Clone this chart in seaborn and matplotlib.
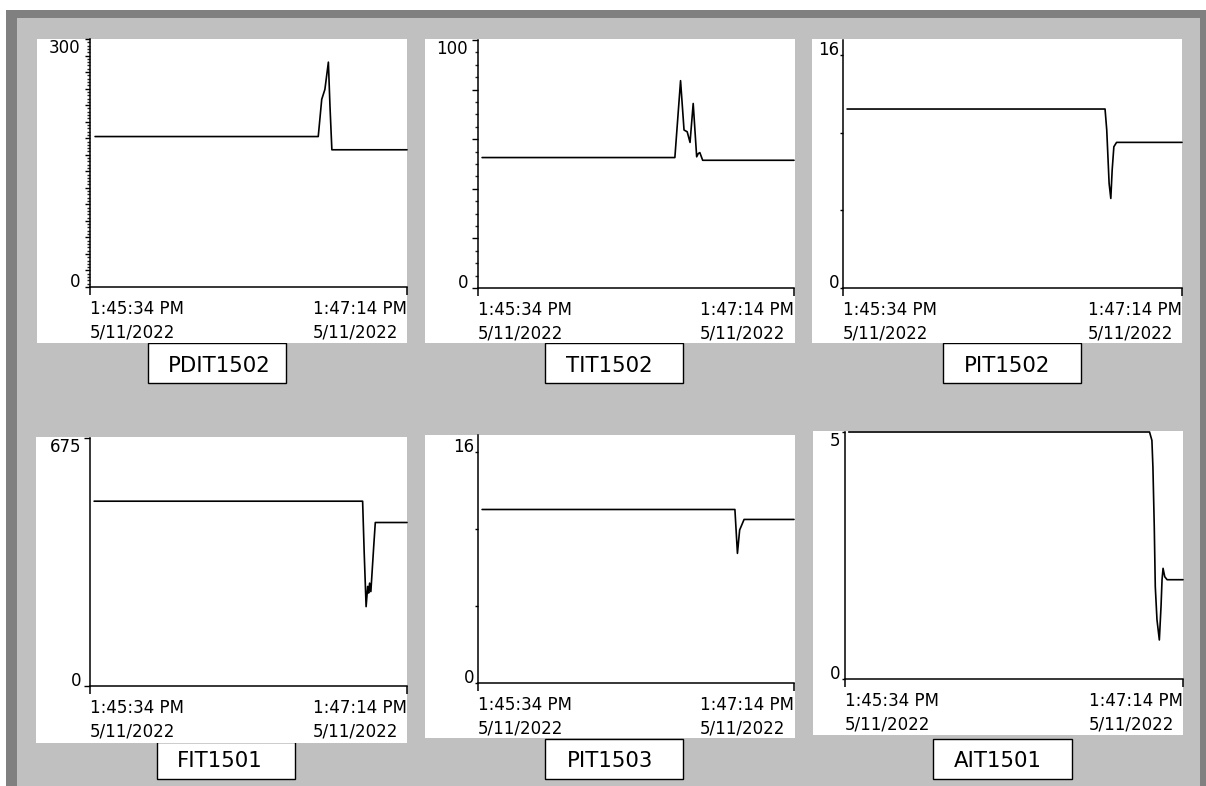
import matplotlib
matplotlib.use("Agg")
import matplotlib.pyplot as plt
from matplotlib.patches import Rectangle
import seaborn as sns

# ---- trend data: seconds after 1:45:34 PM and the sampled value ----
tags = ["PDIT1502", "TIT1502", "PIT1502", "FIT1501", "PIT1503", "AIT1501"]
x_tick_labels = ["1:45:34 PM\n5/11/2022", "1:47:14 PM\n5/11/2022"]

pdit1502_t = [1.6, 72.0, 73.1, 74.1, 75.2, 75.7, 76.3, 100]
pdit1502_v = [182, 182, 227, 239, 272, 219, 166, 166]

tit1502_t = [1.3, 62.3, 64.1, 65.2, 66.2, 67.1, 68.1, 69.2, 69.7, 70.2, 71.1, 100]
tit1502_v = [52.6, 52.6, 83.6, 63.7, 63.0, 58.7, 74.4, 52.9, 54.2, 54.6, 51.5, 51.5]

pit1502_t = [1.2, 77.3, 77.8, 78.5, 79.0, 79.4, 79.9, 80.7, 100]
pit1502_v = [12.29, 12.29, 10.85, 7.18, 6.15, 8.1, 9.7, 10.0, 10.0]

fit1501_t = [1.3, 86.0, 86.5, 87.1, 87.6, 87.9, 88.2, 88.6, 89.5, 90.0, 100]
fit1501_v = [503, 503, 362, 216, 271, 253, 280, 257, 380, 445, 445]

pit1503_t = [1.3, 81.3, 82.1, 82.8, 84.2, 100]
pit1503_v = [12.02, 12.02, 8.98, 10.6, 11.33, 11.33]

ait1501_t = [1.1, 90.1, 90.8, 91.1, 91.5, 91.8, 92.3, 93.0, 93.5, 93.8, 94.1, 94.6, 95.3, 100]
ait1501_v = [5.0, 5.0, 4.83, 4.29, 3.08, 1.87, 1.20, 0.79, 1.47, 2.01, 2.24, 2.07, 2.01, 2.01]

series = [
    (pdit1502_t, pdit1502_v),
    (tit1502_t, tit1502_v),
    (pit1502_t, pit1502_v),
    (fit1501_t, fit1501_v),
    (pit1503_t, pit1503_v),
    (ait1501_t, ait1501_v),
]

# ---- y scales: (top of axis, labelled major ticks, minor step) ----
y_scales = [
    dict(ymax=300, majors=list(range(0, 301, 20)), minor_step=4, top_label="300"),
    dict(ymax=100, majors=list(range(0, 101, 20)), minor_step=5, top_label="100"),
    dict(ymax=17.03, majors=[0, 16 / 3, 32 / 3, 16], minor_step=None, top_label="16"),
    dict(ymax=675, majors=[0, 675], minor_step=None, top_label="675"),
    dict(ymax=17.18, majors=[0, 16 / 3, 32 / 3, 16], minor_step=None, top_label="16"),
    dict(ymax=5, majors=[0, 5], minor_step=None, top_label="5"),
]

# ---- layout in pixels (x0, y0, x1, y1 measured from the top-left) ----
W, H = 1206, 786
layout = [
    dict(panel=(37, 39, 407, 342.5), axes=(90, 39, 407, 287), box=(148, 343, 286, 383),
         text=(219.5, 372), ytick=(5, 3, 5), top_va="top"),
    dict(panel=(425, 39, 795, 342.5), axes=(478, 40, 794, 288), box=(545, 343, 683, 383),
         text=(609.7, 372), ytick=(6, 3, 4), top_va="top"),
    dict(panel=(812, 39, 1182, 342.5), axes=(843, 40, 1182, 288), box=(943, 343, 1081, 383),
         text=(1006.7, 372), ytick=(3, 2, 1), top_va="baseline"),
    dict(panel=(36, 437, 407, 743), axes=(90, 438, 407, 686), box=(157, 742, 295, 779),
         text=(220, 767), ytick=(6, 3, 3), top_va="top"),
    dict(panel=(425, 435, 795, 738), axes=(478, 435, 794, 683), box=(545, 739, 683, 779),
         text=(609.7, 767), ytick=(3, 2, 1), top_va="baseline"),
    dict(panel=(813, 431, 1183, 735), axes=(845, 432, 1183, 679), box=(933, 739, 1072, 779),
         text=(997.8, 767), ytick=(3, 2, 2), top_va="top"),
]

sns.set_theme(style="ticks")
plt.rcParams["font.family"] = ["DejaVu Sans"]

fig = plt.figure(figsize=(W / 100, H / 100), dpi=100, facecolor="white")


def px2pt(v):
    return v * 72 / 100


def add_rect(x0, y0, x1, y1, fc, ec="none", lw=0.0, z=-10):
    r = Rectangle((x0 / W, 1 - y1 / H), (x1 - x0) / W, (y1 - y0) / H,
                  transform=fig.transFigure, facecolor=fc, edgecolor=ec,
                  linewidth=lw, zorder=z)
    fig.add_artist(r)


# window frame and grey backdrop
add_rect(6, 10, W, H, "#808080", z=-12)
add_rect(17, 18, 1200, H, "#C0C0C0", z=-11)

for tag, (t, v), ys, lay in zip(tags, series, y_scales, layout):
    # name plate below the trend, then the white trend panel on top of it
    add_rect(*lay["box"], fc="white", ec="black", lw=1.0, z=-9)
    add_rect(*lay["panel"], fc="white", z=-8)
    fig.text(lay["text"][0] / W, 1 - lay["text"][1] / H, tag, ha="center",
             va="baseline", fontsize=15.3, color="black")

    x0, y0, x1, y1 = lay["axes"]
    ax = fig.add_axes((x0 / W, 1 - y1 / H, (x1 - x0) / W, (y1 - y0) / H))
    ax.set_facecolor("none")

    sns.lineplot(x=t, y=v, ax=ax, color="black", linewidth=1.2)
    for ln in ax.lines:
        ln.set_clip_on(False)

    ax.set_xlim(0, 100)
    ax.set_ylim(0, ys["ymax"])
    ax.set(xlabel="", ylabel="")

    for side in ("top", "right"):
        ax.spines[side].set_visible(False)
    for side in ("left", "bottom"):
        ax.spines[side].set_color("black")
        ax.spines[side].set_linewidth(1.1)

    # time axis: only the two end stamps
    ax.set_xticks([0, 100], labels=x_tick_labels)
    ax.tick_params(axis="x", direction="out", length=px2pt(8), width=1.1,
                   pad=px2pt(5), labelsize=12, colors="black")
    xl = ax.get_xticklabels()
    xl[0].set_ha("left")
    xl[1].set_ha("right")
    for lab in xl:
        lab.set_multialignment("left")
        lab.set_linespacing(1.4)

    # value axis: labels at the two ends only
    majors = ys["majors"]
    ylabels = [""] * len(majors)
    ylabels[0] = "0"
    ylabels[-1] = ys["top_label"]
    ax.set_yticks(majors, labels=ylabels)
    if ys["minor_step"]:
        ax.set_yticks(list(range(0, int(ys["ymax"]) + 1, ys["minor_step"])), minor=True)
    major_len, minor_len, pad = lay["ytick"]
    ax.tick_params(axis="y", which="major", direction="out", length=px2pt(major_len),
                   width=1.0, pad=px2pt(pad), labelsize=12, colors="black", left=True)
    ax.tick_params(axis="y", which="minor", direction="out", length=px2pt(minor_len),
                   width=1.0, left=True)
    yl = ax.get_yticklabels()
    yl[0].set_va("baseline")
    yl[-1].set_va(lay["top_va"])

fig.savefig("out.png", dpi=100, facecolor=fig.get_facecolor())
